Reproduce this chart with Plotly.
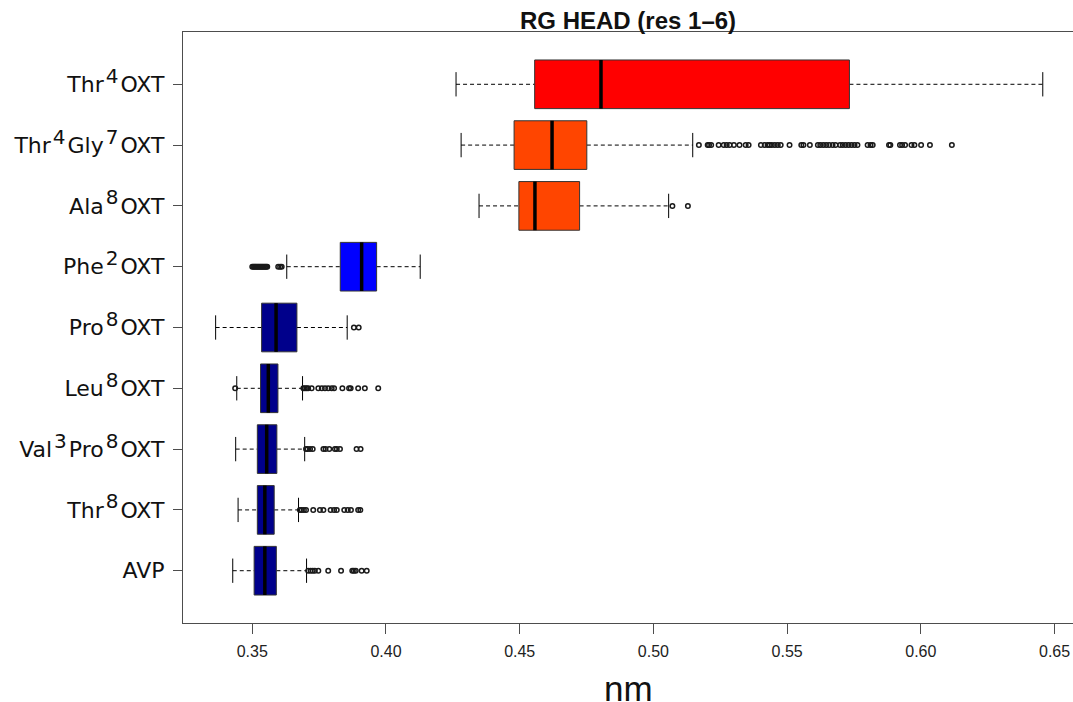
import plotly.graph_objects as go

# ---- data (bottom to top) ----
def sup(d):
    return "<sup><span style=\"font-size:20px\">\u200a" + d + "\u200a</span></sup>"

categories = ["AVP", "Thr" + sup("8") + "OXT", "Val" + sup("3") + "Pro" + sup("8") + "OXT",
              "Leu" + sup("8") + "OXT", "Pro" + sup("8") + "OXT", "Phe" + sup("2") + "OXT",
              "Ala" + sup("8") + "OXT", "Thr" + sup("4") + "Gly" + sup("7") + "OXT",
              "Thr" + sup("4") + "OXT"]
lower_whisker = [0.3427, 0.3447, 0.3438, 0.3442, 0.3363, 0.3629, 0.4348, 0.4281, 0.4262]
q1_values     = [0.3507, 0.3519, 0.3519, 0.3531, 0.3535, 0.3829, 0.4497, 0.4479, 0.4556]
median_values = [0.3547, 0.3547, 0.3554, 0.3560, 0.3589, 0.3909, 0.4557, 0.4621, 0.4804]
q3_values     = [0.3590, 0.3582, 0.3592, 0.3596, 0.3667, 0.3965, 0.4724, 0.4751, 0.5733]
upper_whisker = [0.3703, 0.3673, 0.3696, 0.3688, 0.3855, 0.4128, 0.5057, 0.5147, 0.6456]
box_colors = ["#00008B", "#00008B", "#00008B", "#00008B", "#00008B", "#0000FF",
              "#FF4500", "#FF4500", "#FF0000"]

outliers_avp = [0.3709, 0.3718, 0.3726, 0.3734, 0.3747, 0.3784, 0.3832, 0.3874, 0.3880, 0.3887, 0.3909, 0.3928]
outliers_thr8 = [0.3678, 0.3685, 0.3693, 0.3701, 0.3728, 0.3753, 0.3766, 0.3793, 0.3806, 0.3816,
                 0.3844, 0.3857, 0.3869, 0.3896, 0.3904]
outliers_val3pro8 = [0.3701, 0.3707, 0.3716, 0.3726, 0.3766, 0.3774, 0.3788, 0.3809, 0.3816, 0.3828, 0.3890, 0.3905]
outliers_leu8 = [0.3436, 0.3691, 0.3697, 0.3703, 0.3709, 0.3722, 0.3747, 0.3760, 0.3772, 0.3784, 0.3797,
                 0.3806, 0.3837, 0.3862, 0.3868, 0.3896, 0.3921, 0.3971]
outliers_pro8 = [0.3880, 0.3898]
outliers_phe2 = [0.3500, 0.3504, 0.3508, 0.3512, 0.3516, 0.3520, 0.3524, 0.3528, 0.3532, 0.3536,
                 0.3540, 0.3544, 0.3548, 0.3552, 0.3556, 0.3597, 0.3604, 0.3610]
outliers_ala8 = [0.5071, 0.5129]
outliers_thr4gly7 = [0.5170, 0.5203, 0.5208, 0.5216, 0.5244, 0.5263, 0.5274, 0.5285, 0.5301, 0.5322,
                     0.5345, 0.5356, 0.5402, 0.5416, 0.5427, 0.5435, 0.5443, 0.5454, 0.5465, 0.5476,
                     0.5509, 0.5553, 0.5561, 0.5585, 0.5615, 0.5624, 0.5635, 0.5646, 0.5657, 0.5670,
                     0.5681, 0.5698, 0.5708, 0.5719, 0.5730, 0.5741, 0.5752, 0.5763, 0.5801, 0.5812,
                     0.5820, 0.5881, 0.5886, 0.5922, 0.5930, 0.5941, 0.5965, 0.5976, 0.6001, 0.6034,
                     0.6116]
outliers_thr4 = []
outliers = [outliers_avp, outliers_thr8, outliers_val3pro8, outliers_leu8, outliers_pro8,
            outliers_phe2, outliers_ala8, outliers_thr4gly7, outliers_thr4]

x_ticks = [0.35, 0.40, 0.45, 0.50, 0.55, 0.60, 0.65]
x_tick_labels = ["0.35", "0.40", "0.45", "0.50", "0.55", "0.60", "0.65"]

BOX_HALF = 0.4
STAPLE_HALF = 0.2

fig = go.Figure()
for i, cat in enumerate(categories):
    y = i + 1
    # dashed whiskers
    fig.add_trace(go.Scatter(
        x=[lower_whisker[i], q1_values[i], None, q3_values[i], upper_whisker[i]],
        y=[y, y, None, y, y], mode="lines",
        line=dict(color="black", width=1, dash="4px,3px"),
        hoverinfo="skip", showlegend=False))
    # staples
    fig.add_trace(go.Scatter(
        x=[lower_whisker[i], lower_whisker[i], None, upper_whisker[i], upper_whisker[i]],
        y=[y - STAPLE_HALF, y + STAPLE_HALF, None, y - STAPLE_HALF, y + STAPLE_HALF],
        mode="lines", line=dict(color="black", width=1),
        hoverinfo="skip", showlegend=False))
    # box
    fig.add_trace(go.Scatter(
        x=[q1_values[i], q3_values[i], q3_values[i], q1_values[i], q1_values[i]],
        y=[y - BOX_HALF, y - BOX_HALF, y + BOX_HALF, y + BOX_HALF, y - BOX_HALF],
        mode="lines", fill="toself", fillcolor=box_colors[i],
        line=dict(color="#333333", width=1),
        hoverinfo="skip", showlegend=False))
    # median
    fig.add_trace(go.Scatter(
        x=[median_values[i], median_values[i]],
        y=[y - BOX_HALF, y + BOX_HALF], mode="lines",
        line=dict(color="black", width=3.5),
        hoverinfo="skip", showlegend=False))
    # outliers
    if outliers[i]:
        fig.add_trace(go.Scatter(
            x=outliers[i], y=[y] * len(outliers[i]), mode="markers",
            marker=dict(symbol="circle-open", size=4.5, color="#1a1a1a", line=dict(width=1.5)),
            hoverinfo="skip", showlegend=False))

fig.update_layout(
    width=1073, height=702,
    margin=dict(l=183, r=0, t=32, b=79),
    paper_bgcolor="white", plot_bgcolor="white",
    showlegend=False,
    xaxis=dict(range=[0.3241, 0.6569], tickvals=x_ticks, ticktext=x_tick_labels,
               showgrid=False, zeroline=False, showline=True, mirror=True,
               linecolor="#4d4d4d", linewidth=1.2,
               ticks="outside", ticklen=10, tickcolor="#4d4d4d",
               ticklabelstandoff=4,
               tickfont=dict(family="Liberation Sans", size=16, color="#222222")),
    yaxis=dict(range=[0.14, 9.86], tickvals=list(range(1, len(categories) + 1)),
               ticktext=categories, showgrid=False, zeroline=False,
               showline=True, linecolor="#4d4d4d", linewidth=1.2,
               ticks="outside", ticklen=9, tickcolor="#4d4d4d",
               ticklabelstandoff=4,
               tickfont=dict(family="DejaVu Sans", size=22, color="#111111")),
    annotations=[
        dict(text="<b>RG HEAD (res 1\u20136)</b>", x=0.5, xref="paper", y=1.0203, yref="paper",
             xanchor="center", yanchor="middle", showarrow=False,
             font=dict(family="Liberation Sans", size=24, color="#111111")),
        dict(text="nm", x=0.5, xref="paper", y=-0.1100, yref="paper",
             xanchor="center", yanchor="middle", showarrow=False,
             font=dict(family="Liberation Sans", size=35, color="#111111")),
    ],
)

fig.write_html("out.html")
